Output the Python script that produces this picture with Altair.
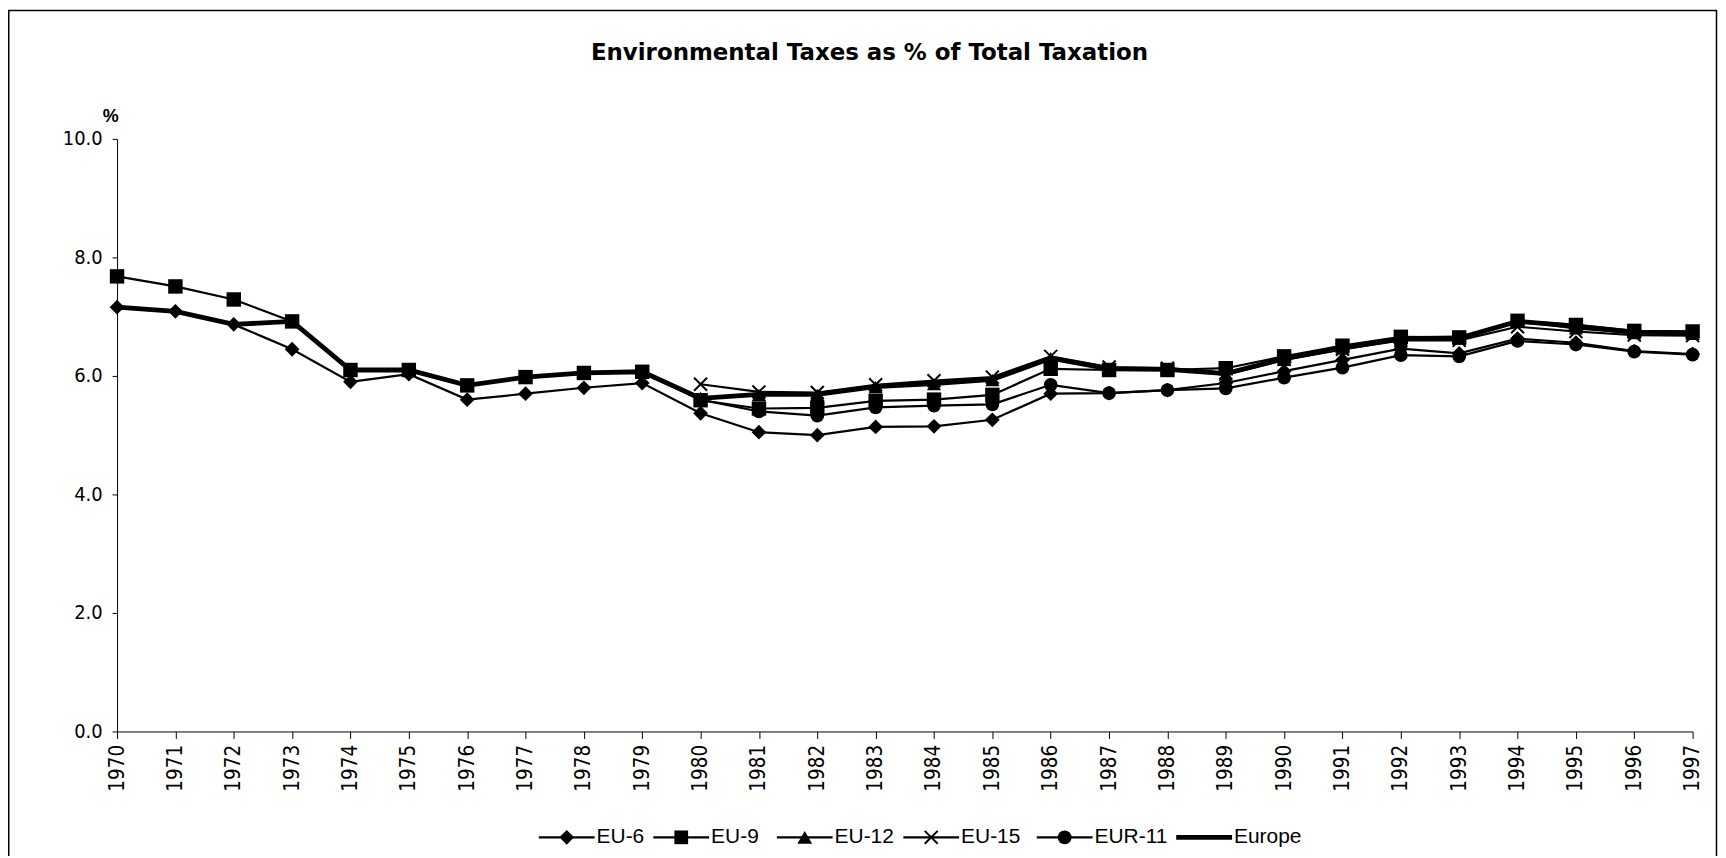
import altair as alt
import pandas as pd

# ---------------- data ----------------
years = list(range(1970, 1998))
years_late = list(range(1980, 1998))

eu6 = [7.16, 7.09, 6.87, 6.45, 5.90, 6.03, 5.60, 5.70, 5.80, 5.88,
       5.37, 5.05, 5.00, 5.14, 5.15, 5.26, 5.70, 5.71, 5.76, 5.88,
       6.08, 6.27, 6.46, 6.38, 6.63, 6.56, 6.42, 6.37]
eu9 = [7.68, 7.51, 7.29, 6.92, 6.10, 6.10, 5.84, 5.98, 6.05, 6.07,
       5.59, 5.45, 5.46, 5.58, 5.60, 5.68, 6.12, 6.10, 6.10, 6.13,
       6.33, 6.51, 6.66, 6.65, 6.93, 6.86, 6.76, 6.75]
eu12 = [5.63, 5.68, 5.68, 5.81, 5.86, 5.93, 6.30, 6.12, 6.11, 6.02,
        6.27, 6.46, 6.62, 6.63, 6.92, 6.80, 6.72, 6.71]
eu15 = [5.86, 5.73, 5.72, 5.85, 5.92, 5.98, 6.33, 6.15, 6.13, 6.05,
        6.28, 6.45, 6.60, 6.60, 6.83, 6.75, 6.69, 6.68]
eur11 = [5.60, 5.40, 5.33, 5.47, 5.50, 5.52, 5.85, 5.71, 5.76, 5.79,
         5.97, 6.14, 6.35, 6.33, 6.59, 6.53, 6.41, 6.36]
europe = [7.16, 7.09, 6.87, 6.92, 6.10, 6.10, 5.84, 5.98, 6.05, 6.07,
          5.62, 5.69, 5.69, 5.82, 5.87, 5.94, 6.30, 6.12, 6.11, 6.04,
          6.29, 6.47, 6.63, 6.64, 6.92, 6.84, 6.74, 6.73]

series_names = ["EU-6", "EU-9", "EU-12", "EU-15", "EUR-11", "Europe"]
y_ticks = [0, 2, 4, 6, 8, 10]
title_text = "Environmental Taxes as % of Total Taxation"
unit_text = "%"

rows = []
for name, yrs, vals in [("EU-6", years, eu6), ("EU-9", years, eu9),
                        ("EU-12", years_late, eu12), ("EU-15", years_late, eu15),
                        ("EUR-11", years_late, eur11), ("Europe", years, europe)]:
    for yr, v in zip(yrs, vals):
        rows.append({"year": yr, "value": v, "series": name})
df = pd.DataFrame(rows)

# ---------------- layout ----------------
W, H = 1582, 595
PAD = {"left": 109.5, "top": 129.7, "right": 25.5, "bottom": 123}
FONT = "Liberation Sans"
NFONT = "Liberation Sans Narrow, Arial Narrow, DejaVu Sans Condensed, Liberation Sans"
TFONT = "DejaVu Sans"
X_PATH = "M-1,-1L1,1M-1,1L1,-1"
shape_map = {"EU-6": "diamond", "EU-9": "square", "EU-12": "triangle-up",
             "EUR-11": "circle"}
size_map = {"EU-6": 220, "EU-9": 190, "EU-12": 220, "EUR-11": 195}
X_SIZE = 170

x_enc = alt.X("year:Q",
              scale=alt.Scale(domain=[1970, 1997], nice=False, zero=False),
              axis=alt.Axis(values=years, format="d", labelAngle=-90, title=None,
                            grid=False, tickSize=7, labelPadding=6,
                            labelFont=NFONT, labelFontSize=20.5, labelColor="black",
                            domainColor="black", tickColor="black",
                            labelFlush=False, labelOverlap=False))
y_enc = alt.Y("value:Q",
              scale=alt.Scale(domain=[0, 10], nice=False),
              axis=alt.Axis(values=y_ticks, format=".1f", title=None, grid=False,
                            tickSize=5, labelPadding=10,
                            labelFont=NFONT, labelFontSize=20, labelColor="black",
                            domainColor="black", tickColor="black"))

base = alt.Chart(df)

thin_lines = base.transform_filter(alt.datum.series != "Europe").mark_line(
    color="black", strokeWidth=2.2).encode(x=x_enc, y=y_enc, detail="series:N")
thick_line = base.transform_filter(alt.datum.series == "Europe").mark_line(
    color="black", strokeWidth=4.8).encode(x=x_enc, y=y_enc)

filled_pts = base.transform_filter(
    alt.FieldOneOfPredicate(field="series", oneOf=["EU-6", "EU-9", "EU-12", "EUR-11"])
).mark_point(filled=True, color="black", opacity=1).encode(
    x=x_enc, y=y_enc,
    shape=alt.Shape("series:N",
                    scale=alt.Scale(domain=list(shape_map.keys()),
                                    range=list(shape_map.values())),
                    legend=None),
    size=alt.Size("series:N",
                  scale=alt.Scale(domain=list(size_map.keys()),
                                  range=list(size_map.values())),
                  legend=None))
cross_pts = base.transform_filter(alt.datum.series == "EU-15").mark_point(
    filled=False, color="black", opacity=1, size=X_SIZE, strokeWidth=2,
    shape=X_PATH).encode(x=x_enc, y=y_enc)

# ---------------- decorations ----------------
OX, OY = 8 + PAD["left"], 8 + PAD["top"]   # page position of plot origin

title = alt.Chart(pd.DataFrame({"t": [title_text]})).mark_text(
    font=TFONT, fontSize=23, fontWeight="bold", color="black",
    align="center", baseline="middle").encode(
    text="t:N", x=alt.value(873 - OX), y=alt.value(51 - OY))
unit = alt.Chart(pd.DataFrame({"t": [unit_text]})).mark_text(
    font=FONT, fontSize=18, fontWeight="bold", color="black",
    align="center", baseline="middle").encode(
    text="t:N", x=alt.value(111 - OX), y=alt.value(116 - OY))

border = alt.Chart(pd.DataFrame({"a": [0]})).mark_rect(
    fillOpacity=0, stroke="black", strokeWidth=1.5).encode(
    x=alt.value(8.75 - OX), x2=alt.value(1723.5 - OX),
    y=alt.value(8.75 - OY), y2=alt.value(900 - OY))

leg_x0 = [541, 656, 780, 907, 1041, 1181]
LEG_Y = 839 - OY
legend_layers = []
for name, x0 in zip(series_names, leg_x0):
    d = pd.DataFrame({"s": [name]})
    sw = 4.8 if name == "Europe" else 2.2
    legend_layers.append(alt.Chart(d).mark_rule(color="black", strokeWidth=sw).encode(
        x=alt.value(x0 - OX), x2=alt.value(x0 + 56 - OX), y=alt.value(LEG_Y)))
    if name == "EU-15":
        legend_layers.append(alt.Chart(d).mark_point(
            filled=False, color="black", opacity=1, size=X_SIZE, strokeWidth=2,
            shape=X_PATH).encode(x=alt.value(x0 + 28 - OX), y=alt.value(LEG_Y)))
    elif name != "Europe":
        legend_layers.append(alt.Chart(d).mark_point(
            filled=True, color="black", opacity=1, size=size_map[name],
            shape=shape_map[name]).encode(x=alt.value(x0 + 28 - OX), y=alt.value(LEG_Y)))
    legend_layers.append(alt.Chart(d).mark_text(
        font=FONT, fontSize=21, color="black", align="left", baseline="middle").encode(
        text="s:N", x=alt.value(x0 + 58 - OX), y=alt.value(LEG_Y)))

chart = alt.layer(
    border, thin_lines, thick_line, filled_pts, cross_pts, title, unit, *legend_layers
).properties(
    width=W, height=H, padding=PAD,
    autosize=alt.AutoSizeParams(type="none"),
    background="white",
).configure_view(stroke=None)

chart.save("out.html", embed_options={"renderer": "svg", "actions": False})
